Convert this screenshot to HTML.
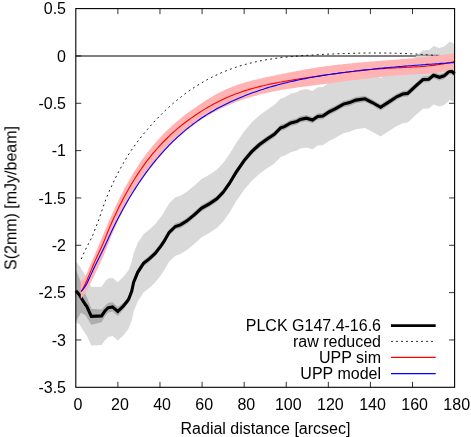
<!DOCTYPE html>
<html><head><meta charset="utf-8"><style>
html,body{margin:0;padding:0;background:#fff;}
svg{display:block}
text{font-family:"Liberation Sans",sans-serif;font-size:16px;fill:#000}
</style></head><body>
<svg width="471" height="437" viewBox="0 0 471 437">
<rect width="471" height="437" fill="#fff"/>
<path d="M75.8 56H454.6" stroke="#000" stroke-width="1.05" fill="none"/>
<g stroke="#000" stroke-width="0.8" fill="none"><path d="M117.89 387.30v-5.5M117.89 8.60v5.5"/><path d="M159.98 387.30v-5.5M159.98 8.60v5.5"/><path d="M202.07 387.30v-5.5M202.07 8.60v5.5"/><path d="M244.16 387.30v-5.5M244.16 8.60v5.5"/><path d="M286.24 387.30v-5.5M286.24 8.60v5.5"/><path d="M328.33 387.30v-5.5M328.33 8.60v5.5"/><path d="M370.42 387.30v-5.5M370.42 8.60v5.5"/><path d="M412.51 387.30v-5.5M412.51 8.60v5.5"/><path d="M75.80 55.94h5.5M454.60 55.94h-5.5"/><path d="M75.80 103.27h5.5M454.60 103.27h-5.5"/><path d="M75.80 150.61h5.5M454.60 150.61h-5.5"/><path d="M75.80 197.95h5.5M454.60 197.95h-5.5"/><path d="M75.80 245.29h5.5M454.60 245.29h-5.5"/><path d="M75.80 292.62h5.5M454.60 292.62h-5.5"/><path d="M75.80 339.96h5.5M454.60 339.96h-5.5"/></g>
<polygon points="75.9,261.8 79.1,265.3 81.7,269.6 85.5,275.6 86.8,277.1 91.3,287.1 101.6,286.7 104.8,282.0 108.0,278.6 112.5,277.7 117.8,282.2 123.4,276.8 127.8,271.3 128.8,269.6 131.7,262.1 133.6,253.2 137.7,243.1 143.5,234.2 149.2,229.7 154.9,224.4 160.6,217.2 164.0,212.2 169.0,203.4 175.3,197.3 180.4,195.7 186.6,191.9 194.2,185.7 201.7,178.9 209.3,174.7 216.8,169.7 223.1,163.1 229.4,154.3 235.7,143.7 244.1,131.4 251.7,122.5 259.2,115.6 266.8,110.1 274.3,105.1 280.6,98.7 284.4,97.4 290.7,93.8 297.0,92.2 300.2,90.2 306.4,89.0 312.5,90.9 317.7,87.2 322.8,86.9 329.0,82.7 335.2,79.6 343.4,74.9 349.6,73.4 355.8,70.9 365.0,69.6 372.3,73.3 380.6,78.1 389.4,72.4 397.1,67.3 402.8,64.8 407.7,64.2 415.3,57.1 423.0,50.3 428.8,50.0 433.6,46.0 439.4,48.1 444.2,46.6 449.4,41.9 451.9,42.3 454.6,44.6 454.6,103.0 451.9,100.7 449.4,100.3 444.2,105.0 439.4,106.5 433.6,104.4 428.8,108.4 423.0,108.7 415.3,115.5 407.7,122.6 402.8,123.2 397.1,125.7 389.4,130.8 380.6,136.5 372.3,131.7 365.0,128.0 355.8,129.3 349.6,131.8 343.4,133.3 335.2,138.0 329.0,141.1 322.8,145.3 317.7,145.6 312.5,149.3 306.4,147.4 300.2,148.6 297.0,150.6 290.7,152.2 284.4,155.8 280.6,157.1 274.3,163.5 266.8,168.5 259.2,174.0 251.7,180.9 244.1,189.8 235.7,202.1 229.4,212.7 223.1,221.5 216.8,228.1 209.3,233.1 201.7,237.3 194.2,244.1 186.6,250.3 180.4,254.1 175.3,255.7 169.0,261.8 164.0,270.6 160.6,275.6 154.9,282.8 149.2,288.1 143.5,292.6 137.7,301.5 133.6,311.6 131.7,320.5 128.8,328.0 127.8,329.7 123.4,335.2 117.8,340.6 112.5,336.1 108.0,337.0 104.8,340.4 101.6,345.1 91.3,345.5 86.8,335.5 85.5,334.0 81.7,328.0 79.1,323.7 75.9,322.9" fill="#d9d9d9"/>
<path d="M416.6 55.2H439.5" stroke="#7a7a7a" stroke-width="1" fill="none"/>
<polygon points="75.9,269.5 79.1,277.2 81.7,285.0 84.3,291.3 86.8,297.0 91.3,308.8 101.6,309.5 104.8,306.0 108.0,302.9 112.5,302.2 117.8,306.9 123.4,302.8 127.8,297.7 128.8,295.7 131.7,288.2 133.6,279.3 137.7,269.2 143.5,260.3 149.2,255.8 154.9,250.5 160.6,243.3 164.0,238.3 169.0,229.5 175.3,223.4 180.4,221.8 186.6,218.0 194.2,211.8 201.7,205.0 209.3,200.8 216.8,195.8 223.1,189.2 229.4,180.4 235.7,169.8 244.1,157.5 251.7,148.6 259.2,141.7 266.8,136.2 274.3,131.2 280.6,124.8 284.4,123.5 290.7,119.9 297.0,118.3 300.2,116.3 306.4,115.1 312.5,117.0 317.7,113.3 322.8,113.0 329.0,108.8 335.2,105.7 343.4,101.0 349.6,99.5 355.8,97.0 365.0,95.7 372.3,99.4 380.6,104.2 389.4,98.5 397.1,93.4 402.8,90.9 407.7,90.3 415.3,83.2 423.0,76.4 428.8,76.1 433.6,72.1 439.4,74.2 444.2,72.7 449.4,68.0 451.9,68.4 454.6,70.7 454.6,76.9 451.9,74.6 449.4,74.2 444.2,78.9 439.4,80.4 433.6,78.3 428.8,82.3 423.0,82.6 415.3,89.4 407.7,96.5 402.8,97.1 397.1,99.6 389.4,104.7 380.6,110.4 372.3,105.6 365.0,101.9 355.8,103.2 349.6,105.7 343.4,107.2 335.2,111.9 329.0,115.0 322.8,119.2 317.7,119.5 312.5,123.2 306.4,121.3 300.2,122.5 297.0,124.5 290.7,126.1 284.4,129.7 280.6,131.0 274.3,137.4 266.8,142.4 259.2,147.9 251.7,154.8 244.1,163.7 235.7,176.0 229.4,186.6 223.1,195.4 216.8,202.0 209.3,207.0 201.7,211.2 194.2,218.0 186.6,224.2 180.4,228.0 175.3,229.6 169.0,235.7 164.0,244.5 160.6,249.5 154.9,256.7 149.2,262.0 143.5,266.5 137.7,275.4 133.6,285.5 131.7,294.4 128.8,301.9 127.8,303.5 123.4,309.5 117.8,315.9 112.5,311.4 108.0,312.7 104.8,316.5 101.6,322.3 91.3,324.8 85.5,315.2 81.0,312.7 75.9,321.6" fill="#aeaeae"/>
<polyline points="75.9,290.7 79.1,294.5 81.7,298.8 85.5,304.8 86.8,306.3 91.3,316.3 101.6,315.9 104.8,311.2 108.0,307.8 112.5,306.9 117.8,311.4 123.4,306.0 127.8,300.5 128.8,298.8 131.7,291.3 133.6,282.4 137.7,272.3 143.5,263.4 149.2,258.9 154.9,253.6 160.6,246.4 164.0,241.4 169.0,232.6 175.3,226.5 180.4,224.9 186.6,221.1 194.2,214.9 201.7,208.1 209.3,203.9 216.8,198.9 223.1,192.3 229.4,183.5 235.7,172.9 244.1,160.6 251.7,151.7 259.2,144.8 266.8,139.3 274.3,134.3 280.6,127.9 284.4,126.6 290.7,123.0 297.0,121.4 300.2,119.4 306.4,118.2 312.5,120.1 317.7,116.4 322.8,116.1 329.0,111.9 335.2,108.8 343.4,104.1 349.6,102.6 355.8,100.1 365.0,98.8 372.3,102.5 380.6,107.3 389.4,101.6 397.1,96.5 402.8,94.0 407.7,93.4 415.3,86.3 423.0,79.5 428.8,79.2 433.6,75.2 439.4,77.3 444.2,75.8 449.4,71.1 451.9,71.5 454.6,73.8" fill="none" stroke="#000" stroke-width="3.1" stroke-linejoin="miter"/>
<polyline points="81.2,259.0 83.2,254.5 85.2,250.2 87.2,246.2 89.2,242.5 91.2,238.6 93.2,234.1 95.2,229.0 97.2,223.9 99.2,218.5 101.2,212.6 103.2,206.7 105.2,201.2 107.2,196.1 109.2,191.4 111.2,187.0 113.2,182.7 115.2,178.5 117.2,174.5 119.2,170.7 121.2,167.0 123.2,163.4 125.2,160.0 127.2,156.7 129.2,153.6 131.2,150.5 133.2,147.6 135.2,144.8 137.2,142.1 139.2,139.4 141.2,136.9 143.2,134.4 145.2,132.0 147.2,129.6 149.2,127.3 151.2,125.1 153.2,122.8 155.2,120.7 157.2,118.6 159.2,116.5 161.2,114.5 163.2,112.5 165.2,110.6 167.2,108.7 169.2,106.9 171.2,105.1 173.2,103.3 175.2,101.6 177.2,100.0 179.2,98.3 181.2,96.8 183.2,95.2 185.2,93.7 187.2,92.3 189.2,90.8 191.2,89.4 193.2,88.1 195.2,86.8 197.2,85.5 199.2,84.3 201.2,83.1 203.2,81.9 205.2,80.8 207.2,79.7 209.2,78.6 211.2,77.6 213.2,76.6 215.2,75.6 217.2,74.7 219.2,73.7 221.2,72.9 223.2,72.0 225.2,71.2 227.2,70.4 229.2,69.6 231.2,68.9 233.2,68.2 235.2,67.5 237.2,66.9 239.2,66.2 241.2,65.6 243.2,65.0 245.2,64.5 247.2,63.9 249.2,63.4 251.2,62.9 253.2,62.4 255.2,62.0 257.2,61.5 259.2,61.1 261.2,60.7 263.2,60.3 265.2,60.0 267.2,59.6 269.2,59.3 271.2,59.0 273.2,58.7 275.2,58.4 277.2,58.1 279.2,57.9 281.2,57.6 283.2,57.4 285.2,57.2 287.2,57.0 289.2,56.8 291.2,56.6 293.2,56.4 295.2,56.2 297.2,56.1 299.2,55.9 301.2,55.8 303.2,55.6 305.2,55.5 307.2,55.3 309.2,55.2 311.2,55.1 313.2,55.0 315.2,54.9 317.2,54.7 319.2,54.6 321.2,54.5 323.2,54.4 325.2,54.3 327.2,54.2 329.2,54.1 331.2,54.0 333.2,54.0 335.2,53.9 337.2,53.8 339.2,53.7 341.2,53.6 343.2,53.6 345.2,53.5 347.2,53.4 349.2,53.4 351.2,53.3 353.2,53.3 355.2,53.2 357.2,53.2 359.2,53.1 361.2,53.1 363.2,53.1 365.2,53.0 367.2,53.0 369.2,53.0 371.2,53.0 373.2,53.0 375.2,53.0 377.2,53.0 379.2,53.0 381.2,53.0 383.2,53.0 385.2,53.0 387.2,53.0 389.2,53.1 391.2,53.1 393.2,53.2 395.2,53.2 397.2,53.3 399.2,53.3 401.2,53.4 403.2,53.4 405.2,53.5 407.2,53.6 409.2,53.7 411.2,53.8 413.2,53.9 415.2,54.0 417.2,54.1 419.2,54.2 421.2,54.4 423.2,54.5 425.2,54.6 427.2,54.8 429.2,54.9 431.2,55.1 433.2,55.3 435.2,55.4 437.2,55.6 439.2,55.8 439.5,55.8" fill="none" stroke="#000" stroke-width="0.9" stroke-dasharray="1.9,3.3"/>
<polygon points="80.8,281.2 82.8,279.6 84.8,276.9 86.8,273.3 88.8,268.2 90.8,263.5 92.8,259.1 94.8,254.6 96.8,249.9 98.8,245.1 100.8,240.3 102.8,235.6 104.8,230.8 106.8,226.2 108.8,221.5 110.8,216.9 112.8,212.5 114.8,208.1 116.8,203.9 118.8,199.8 120.8,195.8 122.8,191.9 124.8,188.1 126.8,184.5 128.8,180.9 130.8,177.4 132.8,174.1 134.8,170.8 136.8,167.7 138.8,164.6 140.8,161.6 142.8,158.8 144.8,156.0 146.8,153.3 148.8,150.7 150.8,148.2 152.8,145.7 154.8,143.4 156.8,141.1 158.8,138.9 160.8,136.7 162.8,134.6 164.8,132.6 166.8,130.6 168.8,128.7 170.8,126.9 172.8,125.0 174.8,123.3 176.8,121.6 178.8,119.9 180.8,118.3 182.8,116.7 184.8,115.1 186.8,113.6 188.8,112.1 190.8,110.7 192.8,109.2 194.8,107.8 196.8,106.4 198.8,105.0 200.8,103.7 202.8,102.4 204.8,101.1 206.8,99.8 208.8,98.6 210.8,97.4 212.8,96.2 214.8,95.1 216.8,94.0 218.8,93.0 220.8,91.9 222.8,91.0 224.8,90.0 226.8,89.1 228.8,88.2 230.8,87.4 232.8,86.6 234.8,85.9 236.8,85.1 238.8,84.5 240.8,83.8 242.8,83.2 244.8,82.5 246.8,82.0 248.8,81.4 250.8,80.9 252.8,80.3 254.8,79.8 256.8,79.4 258.8,78.9 260.8,78.4 262.8,78.0 264.8,77.5 266.8,77.1 268.8,76.7 270.8,76.3 272.8,75.9 274.8,75.4 276.8,75.0 278.8,74.6 280.8,74.2 282.8,73.8 284.8,73.4 286.8,73.0 288.8,72.6 290.8,72.2 292.8,71.8 294.8,71.5 296.8,71.1 298.8,70.7 300.8,70.3 302.8,70.0 304.8,69.6 306.8,69.3 308.8,68.9 310.8,68.6 312.8,68.2 314.8,67.9 316.8,67.6 318.8,67.3 320.8,67.0 322.8,66.7 324.8,66.4 326.8,66.1 328.8,65.9 330.8,65.6 332.8,65.3 334.8,65.1 336.8,64.9 338.8,64.6 340.8,64.4 342.8,64.2 344.8,64.0 346.8,63.8 348.8,63.6 350.8,63.4 352.8,63.2 354.8,63.0 356.8,62.8 358.8,62.6 360.8,62.4 362.8,62.3 364.8,62.1 366.8,61.9 368.8,61.8 370.8,61.6 372.8,61.4 374.8,61.3 376.8,61.1 378.8,61.0 380.8,60.8 382.8,60.6 384.8,60.5 386.8,60.3 388.8,60.2 390.8,60.0 392.8,59.9 394.8,59.7 396.8,59.5 398.8,59.4 400.8,59.2 402.8,59.1 404.8,58.9 406.8,58.7 408.8,58.5 410.8,58.4 412.8,58.2 414.8,58.0 416.8,57.8 418.8,57.6 420.8,57.4 422.8,57.2 424.8,57.0 426.8,56.8 428.8,56.6 430.8,56.4 432.8,56.1 434.8,55.9 436.8,55.6 438.8,55.4 440.8,55.1 442.8,54.9 444.8,54.6 446.8,54.3 448.8,54.0 450.8,53.7 452.8,53.4 454.6,53.1 454.6,68.6 452.8,69.2 450.8,69.8 448.8,70.3 446.8,70.8 444.8,71.3 442.8,71.7 440.8,72.0 438.8,72.4 436.8,72.6 434.8,72.9 432.8,73.1 430.8,73.4 428.8,73.5 426.8,73.7 424.8,73.9 422.8,74.0 420.8,74.1 418.8,74.2 416.8,74.3 414.8,74.4 412.8,74.5 410.8,74.6 408.8,74.7 406.8,74.8 404.8,74.9 402.8,75.0 400.8,75.2 398.8,75.3 396.8,75.5 394.8,75.6 392.8,75.8 390.8,75.9 388.8,76.1 386.8,76.3 384.8,76.5 382.8,76.7 380.8,76.9 378.8,77.1 376.8,77.3 374.8,77.5 372.8,77.8 370.8,78.0 368.8,78.2 366.8,78.5 364.8,78.7 362.8,79.0 360.8,79.2 358.8,79.5 356.8,79.7 354.8,80.0 352.8,80.2 350.8,80.5 348.8,80.8 346.8,81.0 344.8,81.3 342.8,81.5 340.8,81.8 338.8,82.1 336.8,82.3 334.8,82.6 332.8,82.9 330.8,83.1 328.8,83.4 326.8,83.7 324.8,83.9 322.8,84.2 320.8,84.4 318.8,84.7 316.8,84.9 314.8,85.2 312.8,85.4 310.8,85.7 308.8,86.0 306.8,86.2 304.8,86.5 302.8,86.7 300.8,87.0 298.8,87.3 296.8,87.6 294.8,87.9 292.8,88.2 290.8,88.5 288.8,88.8 286.8,89.1 284.8,89.4 282.8,89.8 280.8,90.1 278.8,90.5 276.8,90.8 274.8,91.2 272.8,91.6 270.8,92.0 268.8,92.5 266.8,92.9 264.8,93.4 262.8,93.8 260.8,94.3 258.8,94.8 256.8,95.4 254.8,95.9 252.8,96.5 250.8,97.1 248.8,97.7 246.8,98.3 244.8,99.0 242.8,99.6 240.8,100.3 238.8,101.0 236.8,101.8 234.8,102.6 232.8,103.4 230.8,104.2 228.8,105.0 226.8,105.9 224.8,106.8 222.8,107.7 220.8,108.7 218.8,109.7 216.8,110.7 214.8,111.8 212.8,112.9 210.8,114.0 208.8,115.1 206.8,116.3 204.8,117.6 202.8,118.8 200.8,120.1 198.8,121.4 196.8,122.8 194.8,124.2 192.8,125.7 190.8,127.2 188.8,128.7 186.8,130.3 184.8,132.0 182.8,133.6 180.8,135.4 178.8,137.1 176.8,139.0 174.8,140.8 172.8,142.8 170.8,144.7 168.8,146.8 166.8,148.8 164.8,151.0 162.8,153.2 160.8,155.4 158.8,157.7 156.8,160.0 154.8,162.5 152.8,164.9 150.8,167.5 148.8,170.1 146.8,172.7 144.8,175.4 142.8,178.2 140.8,181.1 138.8,184.1 136.8,187.1 134.8,190.2 132.8,193.5 130.8,196.8 128.8,200.3 126.8,203.9 124.8,207.6 122.8,211.4 120.8,215.4 118.8,219.5 116.8,223.8 114.8,228.2 112.8,232.7 110.8,237.4 108.8,242.4 106.8,247.5 104.8,252.7 102.8,257.4 100.8,261.7 98.8,266.0 96.8,270.3 94.8,274.5 92.8,278.7 90.8,282.8 88.8,286.7 86.8,290.2 84.8,293.4 82.8,296.3 80.8,299.0" fill="#ffb3b3"/>
<polyline points="81.2,291.5 83.2,288.0 85.2,284.1 87.2,279.7 89.2,274.9 91.2,270.1 93.2,265.3 95.2,260.6 97.2,256.2 99.2,252.0 101.2,247.7 103.2,243.3 105.2,238.4 107.2,233.3 109.2,228.4 111.2,223.7 113.2,219.2 115.2,214.9 117.2,210.7 119.2,206.6 121.2,202.7 123.2,198.8 125.2,195.1 127.2,191.5 129.2,188.0 131.2,184.5 133.2,181.2 135.2,178.0 137.2,174.9 139.2,171.9 141.2,169.0 143.2,166.1 145.2,163.4 147.2,160.7 149.2,158.1 151.2,155.6 153.2,153.2 155.2,150.8 157.2,148.5 159.2,146.3 161.2,144.1 163.2,142.0 165.2,140.0 167.2,138.0 169.2,136.1 171.2,134.2 173.2,132.4 175.2,130.6 177.2,128.9 179.2,127.2 181.2,125.6 183.2,124.0 185.2,122.5 187.2,121.0 189.2,119.5 191.2,118.1 193.2,116.7 195.2,115.3 197.2,114.0 199.2,112.7 201.2,111.4 203.2,110.1 205.2,108.9 207.2,107.7 209.2,106.6 211.2,105.4 213.2,104.3 215.2,103.3 217.2,102.2 219.2,101.2 221.2,100.2 223.2,99.3 225.2,98.3 227.2,97.4 229.2,96.6 231.2,95.7 233.2,94.9 235.2,94.1 237.2,93.4 239.2,92.7 241.2,92.0 243.2,91.3 245.2,90.6 247.2,90.0 249.2,89.4 251.2,88.8 253.2,88.2 255.2,87.7 257.2,87.2 259.2,86.6 261.2,86.1 263.2,85.7 265.2,85.2 267.2,84.8 269.2,84.3 271.2,83.9 273.2,83.5 275.2,83.1 277.2,82.7 279.2,82.3 281.2,82.0 283.2,81.6 285.2,81.2 287.2,80.9 289.2,80.5 291.2,80.2 293.2,79.9 295.2,79.5 297.2,79.2 299.2,78.9 301.2,78.6 303.2,78.3 305.2,78.0 307.2,77.7 309.2,77.4 311.2,77.1 313.2,76.8 315.2,76.5 317.2,76.2 319.2,75.9 321.2,75.6 323.2,75.3 325.2,75.1 327.2,74.8 329.2,74.5 331.2,74.3 333.2,74.0 335.2,73.7 337.2,73.5 339.2,73.2 341.2,72.9 343.2,72.7 345.2,72.4 347.2,72.2 349.2,71.9 351.2,71.7 353.2,71.5 355.2,71.2 357.2,71.0 359.2,70.8 361.2,70.6 363.2,70.3 365.2,70.1 367.2,69.9 369.2,69.7 371.2,69.5 373.2,69.4 375.2,69.2 377.2,69.0 379.2,68.9 381.2,68.7 383.2,68.6 385.2,68.4 387.2,68.3 389.2,68.2 391.2,68.1 393.2,68.0 395.2,67.9 397.2,67.8 399.2,67.7 401.2,67.6 403.2,67.5 405.2,67.4 407.2,67.3 409.2,67.2 411.2,67.1 413.2,67.0 415.2,66.9 417.2,66.8 419.2,66.7 421.2,66.5 423.2,66.4 425.2,66.2 427.2,66.0 429.2,65.8 431.2,65.6 433.2,65.4 435.2,65.1 437.2,64.8 439.2,64.5 441.2,64.2 443.2,63.9 445.2,63.5 447.2,63.1 449.2,62.7 451.2,62.3 453.2,61.8 454.6,61.4" fill="none" stroke="#ff0000" stroke-width="1.1"/>
<polyline points="81.2,291.5 83.2,289.2 85.2,286.4 87.2,283.0 89.2,278.6 91.2,274.1 93.2,269.8 95.2,265.6 97.2,261.5 99.2,257.5 101.2,253.6 103.2,249.5 105.2,245.3 107.2,240.9 109.2,236.6 111.2,232.3 113.2,228.0 115.2,224.0 117.2,220.0 119.2,216.2 121.2,212.5 123.2,208.8 125.2,205.2 127.2,201.7 129.2,198.3 131.2,195.0 133.2,191.8 135.2,188.6 137.2,185.5 139.2,182.5 141.2,179.6 143.2,176.7 145.2,173.9 147.2,171.2 149.2,168.5 151.2,165.9 153.2,163.4 155.2,160.9 157.2,158.5 159.2,156.1 161.2,153.8 163.2,151.6 165.2,149.4 167.2,147.3 169.2,145.2 171.2,143.2 173.2,141.2 175.2,139.3 177.2,137.4 179.2,135.6 181.2,133.8 183.2,132.1 185.2,130.4 187.2,128.7 189.2,127.1 191.2,125.6 193.2,124.0 195.2,122.6 197.2,121.1 199.2,119.7 201.2,118.3 203.2,117.0 205.2,115.7 207.2,114.4 209.2,113.2 211.2,112.0 213.2,110.9 215.2,109.7 217.2,108.6 219.2,107.5 221.2,106.5 223.2,105.5 225.2,104.4 227.2,103.5 229.2,102.5 231.2,101.6 233.2,100.7 235.2,99.8 237.2,98.9 239.2,98.1 241.2,97.2 243.2,96.4 245.2,95.6 247.2,94.8 249.2,94.1 251.2,93.3 253.2,92.6 255.2,91.9 257.2,91.2 259.2,90.5 261.2,89.8 263.2,89.2 265.2,88.5 267.2,87.9 269.2,87.3 271.2,86.7 273.2,86.1 275.2,85.6 277.2,85.0 279.2,84.5 281.2,84.0 283.2,83.5 285.2,83.0 287.2,82.5 289.2,82.0 291.2,81.5 293.2,81.1 295.2,80.6 297.2,80.2 299.2,79.8 301.2,79.4 303.2,79.0 305.2,78.6 307.2,78.2 309.2,77.8 311.2,77.5 313.2,77.1 315.2,76.8 317.2,76.4 319.2,76.1 321.2,75.7 323.2,75.4 325.2,75.1 327.2,74.8 329.2,74.5 331.2,74.2 333.2,73.9 335.2,73.6 337.2,73.4 339.2,73.1 341.2,72.8 343.2,72.5 345.2,72.3 347.2,72.0 349.2,71.8 351.2,71.5 353.2,71.3 355.2,71.0 357.2,70.8 359.2,70.6 361.2,70.3 363.2,70.1 365.2,69.9 367.2,69.7 369.2,69.5 371.2,69.3 373.2,69.0 375.2,68.8 377.2,68.6 379.2,68.4 381.2,68.3 383.2,68.1 385.2,67.9 387.2,67.7 389.2,67.5 391.2,67.3 393.2,67.2 395.2,67.0 397.2,66.8 399.2,66.6 401.2,66.5 403.2,66.3 405.2,66.1 407.2,66.0 409.2,65.8 411.2,65.7 413.2,65.5 415.2,65.3 417.2,65.2 419.2,65.0 421.2,64.9 423.2,64.7 425.2,64.6 427.2,64.4 429.2,64.3 431.2,64.2 433.2,64.0 435.2,63.9 437.2,63.7 439.2,63.6 441.2,63.4 443.2,63.3 445.2,63.2 447.2,63.0 449.2,62.9 451.2,62.7 453.2,62.6 454.6,62.5" fill="none" stroke="#0000ff" stroke-width="1.1"/>
<rect x="75.8" y="8.6" width="378.8" height="378.7" fill="none" stroke="#000" stroke-width="1.1"/>
<g style="filter:grayscale(1)">
<text x="77.9" y="409.5" text-anchor="middle">0</text><text x="120.0" y="409.5" text-anchor="middle">20</text><text x="162.1" y="409.5" text-anchor="middle">40</text><text x="204.2" y="409.5" text-anchor="middle">60</text><text x="246.3" y="409.5" text-anchor="middle">80</text><text x="288.3" y="409.5" text-anchor="middle">100</text><text x="330.4" y="409.5" text-anchor="middle">120</text><text x="372.5" y="409.5" text-anchor="middle">140</text><text x="414.6" y="409.5" text-anchor="middle">160</text><text x="456.7" y="409.5" text-anchor="middle">180</text><text x="66" y="14.2" text-anchor="end">0.5</text><text x="66" y="61.5" text-anchor="end">0</text><text x="66" y="108.9" text-anchor="end">-0.5</text><text x="66" y="156.2" text-anchor="end">-1</text><text x="66" y="203.5" text-anchor="end">-1.5</text><text x="66" y="250.9" text-anchor="end">-2</text><text x="66" y="298.2" text-anchor="end">-2.5</text><text x="66" y="345.6" text-anchor="end">-3</text><text x="66" y="392.9" text-anchor="end">-3.5</text>
<text x="265.5" y="433.5" text-anchor="middle">Radial distance [arcsec]</text>
<text transform="translate(16.4,198) rotate(-90)" text-anchor="middle">S(2mm) [mJy/beam]</text>
<text x="381" y="330.5" text-anchor="end">PLCK G147.4-16.6</text>
<text x="381" y="346.5" text-anchor="end">raw reduced</text>
<text x="381" y="362.5" text-anchor="end">UPP sim</text>
<text x="381" y="378.5" text-anchor="end">UPP model</text>
</g>
<path d="M391 325.6H435.7" stroke="#000" stroke-width="2.9"/>
<path d="M391 341.4H435.7" stroke="#000" stroke-width="0.8" stroke-dasharray="2,3"/>
<path d="M391 357.4H435.7" stroke="#ff0000" stroke-width="1.1"/>
<path d="M391 373.6H435.7" stroke="#0000ff" stroke-width="1.1"/>
</svg></body></html>
